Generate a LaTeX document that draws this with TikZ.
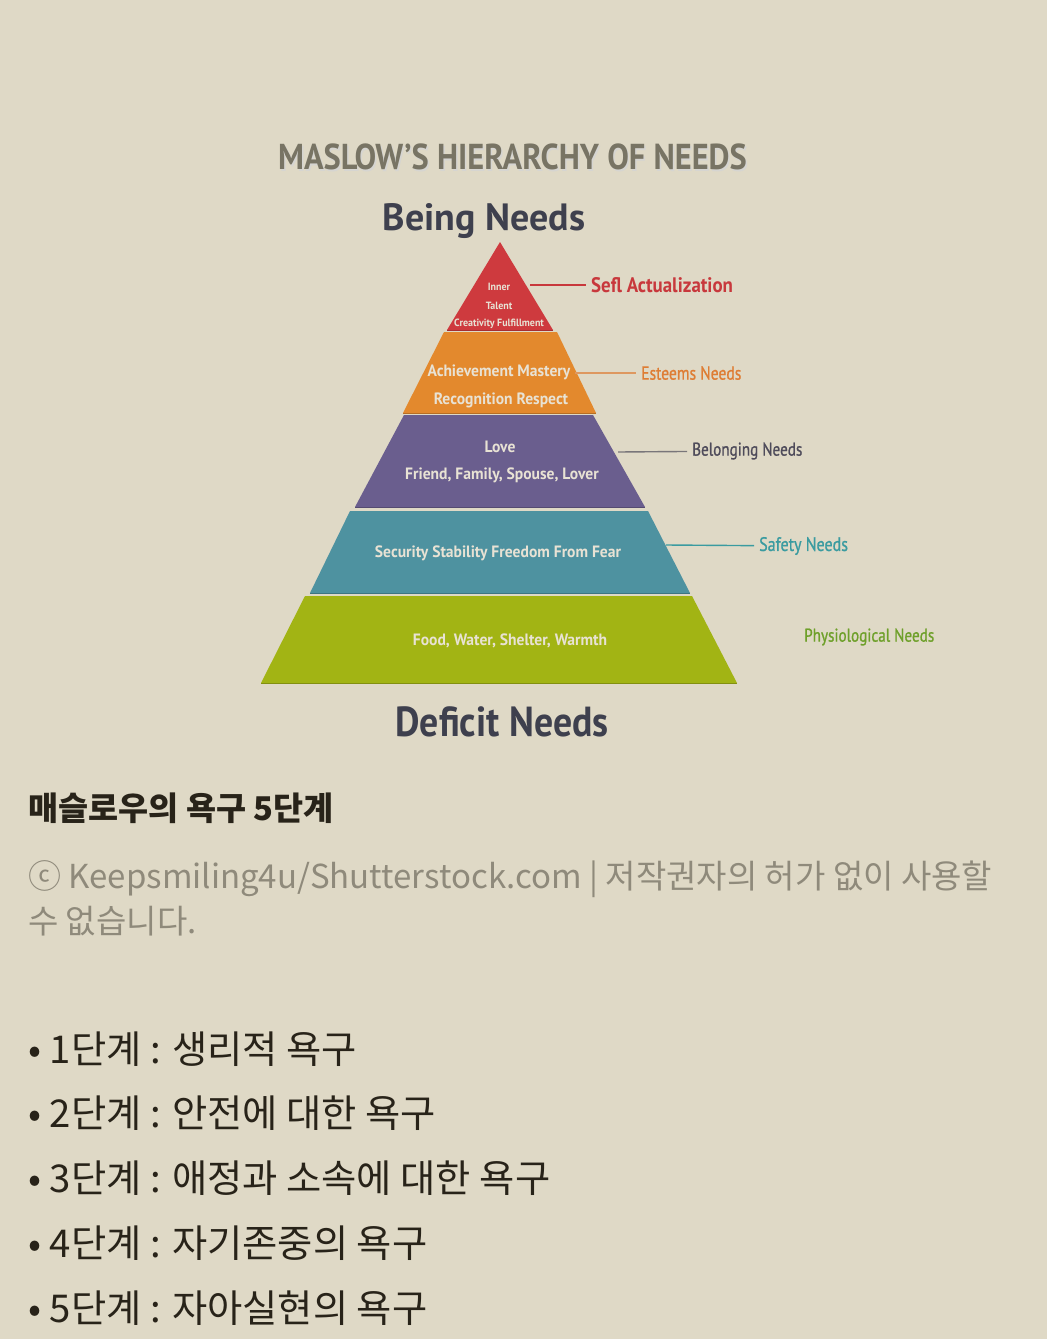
\documentclass[tikz,border=0pt]{standalone}
\usepackage{fontspec}
\setmainfont{PT Sans}
\newfontfamily\krfont{Noto Sans CJK KR}
\newfontfamily\narrowfont[FakeStretch=0.82, FakeBold=1]{PT Sans}
\newfontfamily\tierfont[FakeStretch=0.9]{PT Sans}
\newfontfamily\tierbold[FakeStretch=0.95]{PT Sans}
\usetikzlibrary{positioning}

\definecolor{paper}{RGB}{223,217,198}
\definecolor{tierred}{RGB}{206,58,62}
\definecolor{tierorange}{RGB}{227,137,45}
\definecolor{tierpurple}{RGB}{106,94,142}
\definecolor{tierteal}{RGB}{78,146,160}
\definecolor{tiergreen}{RGB}{162,180,20}
\definecolor{tierink}{RGB}{232,226,212}
\definecolor{headgrey}{RGB}{120,116,100}
\definecolor{headdark}{RGB}{62,64,78}
\definecolor{labred}{RGB}{200,56,60}
\definecolor{laborange}{RGB}{222,125,52}
\definecolor{labpurple}{RGB}{78,75,90}
\definecolor{labteal}{RGB}{58,155,160}
\definecolor{labgreen}{RGB}{110,160,42}
\definecolor{krink}{RGB}{40,35,25}
\definecolor{krgrey}{RGB}{143,138,123}

\newcommand{\fsz}[1]{\fontsize{#1}{1.2\dimexpr#1pt\relax}\selectfont}

\begin{document}
\begin{tikzpicture}[x=1pt, y=-1pt, every node/.style={inner sep=0pt},
	tiertext/.style={text=tierink},
	rim/.style={line width=1pt},
	needlabel/.style={anchor=west},
	link/.style={line width=1.4pt, shorten >=5pt},
	krline/.style={anchor=west}]
	\fill[paper] (0,0) rectangle (1047,1339);
	\useasboundingbox (0,0) rectangle (1047,1339);
	% headings
	\node[text=white!70!headgrey, font=\tierfont\bfseries\fsz{36}] at (514,159) {MASLOW’S HIERARCHY OF NEEDS};
	\node[text=headgrey, font=\tierfont\bfseries\fsz{36}] (title) at (512.5,157) {MASLOW’S HIERARCHY OF NEEDS};
	\node[text=headdark, font=\bfseries\fsz{38}] (being) at (484,221) {Being Needs};
	\node[text=headdark, font=\tierfont\bfseries\fsz{42}] (deficit) at (502,722) {Deficit Needs};
	% pyramid tiers
	\fill[tierred] (500,242) -- (553,330) -- (447,330) -- cycle;
	\fill[tierorange] (444,332) -- (557,332) -- (596,413) -- (403,413) -- cycle;
	\fill[tierpurple] (404,415) -- (593,415) -- (645,507) -- (355,507) -- cycle;
	\fill[tierteal] (350,511) -- (648,511) -- (690,593) -- (310,593) -- cycle;
	\fill[tiergreen] (305,596) -- (692,596) -- (737,683) -- (261,683) -- cycle;
	\draw[rim, tierred!80!black] (447,330) -- (553,330);
	\draw[rim, tierorange!80!black] (403,413) -- (596,413);
	\draw[rim, tierpurple!80!black] (355,507) -- (645,507);
	\draw[rim, tierteal!80!black] (310,593) -- (690,593);
	\draw[rim, tiergreen!80!black] (261,683) -- (737,683);
	% texts inside
	\node[tiertext, font=\tierbold\bfseries\fsz{10.5}] (inner) at (499,287) {Inner};
	\node[tiertext, font=\tierbold\bfseries\fsz{10.5}] (talent) at (499,306) {Talent};
	\node[tiertext, font=\tierbold\bfseries\fsz{10.5}] (creativity) at (499,324) {Creativity Fulfillment};
	\node[tiertext, font=\tierbold\bfseries\fsz{16.4}] (mastery) at (499,372) {Achievement Mastery};
	\node[tiertext, font=\tierbold\bfseries\fsz{16.4}] (respect) at (501,400) {Recognition Respect};
	\node[tiertext, font=\tierbold\bfseries\fsz{16.4}] (love) at (500,447) {Love};
	\node[tiertext, font=\tierbold\bfseries\fsz{16.4}] (friends) at (502,475) {Friend, Family, Spouse, Lover};
	\node[tiertext, font=\tierbold\bfseries\fsz{16.4}] (security) at (498,553) {Security Stability Freedom From Fear};
	\node[tiertext, font=\tierbold\bfseries\fsz{16.4}] (food) at (510,641) {Food, Water, Shelter, Warmth};
	% need labels
	\node[needlabel, text=labred, font=\tierfont\bfseries\fsz{21}] (selfact) at (591,285) {Sefl Actualization};
	\node[needlabel, text=laborange, font=\narrowfont\fsz{19}] (esteem) at (641,373) {Esteems Needs};
	\node[needlabel, text=labpurple, font=\narrowfont\fsz{18.5}] (belong) at (692,451) {Belonging Needs};
	\node[needlabel, text=labteal, font=\narrowfont\fsz{19.5}] (safety) at (759,546) {Safety Needs};
	\node[needlabel, text=labgreen, font=\narrowfont\fsz{18.5}] (physio) at (804,637) {Physiological Needs};
	% connectors
	\coordinate (redEdge) at (530,285);
	\coordinate (orangeEdge) at (575,373);
	\coordinate (purpleEdge) at (618,452);
	\coordinate (tealEdge) at (666,545);
	\draw[link, labred] (redEdge) -- (selfact);
	\draw[link, laborange!70!paper] (orangeEdge) -- (esteem);
	\draw[link, labpurple!70!paper] (purpleEdge) -- (belong);
	\draw[link, labteal] (tealEdge) -- (safety);
	% korean caption
	\node[krline, text=krink, font=\krfont\bfseries\fsz{32.7}] (caption) at (28,808) {매슬로우의 욕구 5단계};
	\node[krline, text=krgrey, font=\krfont\fsz{33}, align=left] (credit) at (28,898.5) {ⓒ Keepsmiling4u/Shutterstock.com | 저작권자의 허가 없이 사용할\\[5pt]수 없습니다.};
	% steps
	\node[krline, text=krink, font=\krfont\fsz{38.3}] (step1) at (28,1049) {• 1단계 : 생리적 욕구};
	\node[krline, text=krink, font=\krfont\fsz{38.3}] (step2) at (28,1113) {• 2단계 : 안전에 대한 욕구};
	\node[krline, text=krink, font=\krfont\fsz{38.3}] (step3) at (28,1178) {• 3단계 : 애정과 소속에 대한 욕구};
	\node[krline, text=krink, font=\krfont\fsz{38.3}] (step4) at (28,1243) {• 4단계 : 자기존중의 욕구};
	\node[krline, text=krink, font=\krfont\fsz{38.3}] (step5) at (28,1308) {• 5단계 : 자아실현의 욕구};
\end{tikzpicture}
\end{document}
